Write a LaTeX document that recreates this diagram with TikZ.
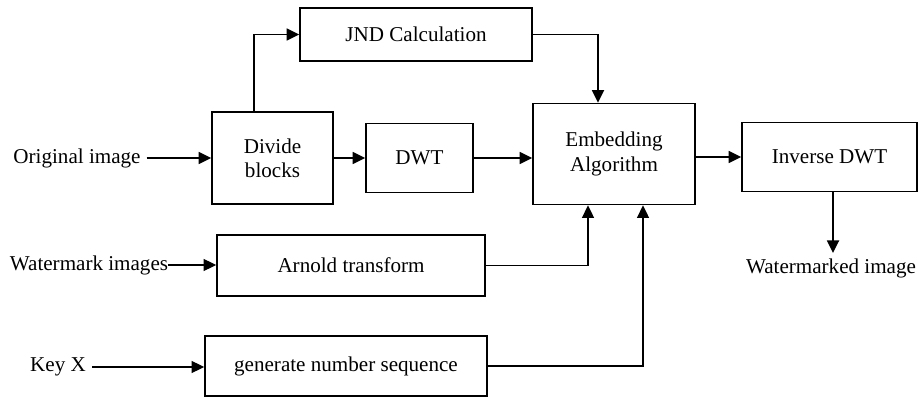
\documentclass[tikz,border=0pt]{standalone}
\usepackage{fontspec}
\setmainfont{Liberation Serif}
\usetikzlibrary{arrows.meta, positioning}

\begin{document}
\begin{tikzpicture}[>={Triangle[length=0.25cm,width=0.24cm]},
    font=\fontsize{12}{13.7}\selectfont,
    block/.style={draw, line width=1pt, align=center, inner sep=0pt},
    flow/.style={->, line width=1pt},
    thinflow/.style={->, line width=0.7pt}]

    % Frame
    \useasboundingbox (0,0) rectangle (18.36,7.94);

    % Blocks
    \node[block, minimum width=4.64cm, minimum height=1.06cm] (jnd) at (8.32,7.25) {JND Calculation};
    \node[block, minimum width=2.42cm, minimum height=1.84cm] (divide) at (5.45,4.78) {Divide\\blocks};
    \node[block, minimum width=2.14cm, minimum height=1.38cm] (dwt) at (8.39,4.78) {DWT};
    \node[block, minimum width=3.24cm, minimum height=2.02cm] (embed) at (12.28,4.86) {Embedding\\Algorithm};
    \node[block, minimum width=3.5cm, minimum height=1.38cm] (idwt) at (16.59,4.8) {Inverse DWT};
    \node[block, minimum width=5.36cm, minimum height=1.22cm] (arnold) at (7.02,2.63) {Arnold transform};
    \node[block, minimum width=5.64cm, minimum height=1.2cm] (gen) at (6.92,0.62) {generate number sequence};

    % Inputs and output
    \node (orig) at (1.54,4.78) {Original image};
    \node[inner sep=0pt] (wm) at (1.78,2.64) {Watermark images};
    \node (key) at (1.16,0.6) {Key X};
    \node[inner sep=3pt, anchor=north] (marked) at (16.62,2.88) {Watermarked image};

    % Main path
    \draw[flow] (orig) -- (divide);
    \draw[flow] ([xshift=-0.37cm]divide.north) |- (jnd.west);
    \draw[flow] (divide) -- (dwt);
    \draw[flow] (jnd.east) -| ([xshift=-0.32cm]embed.north);
    \draw[flow] (dwt) -- (dwt -| embed.west);
    \draw[flow] (embed.east |- idwt) -- (idwt);
    \draw[flow] ([xshift=0.07cm]idwt.south) -- ([xshift=0.07cm]idwt.south |- marked.north);

    % Side inputs
    \draw[thinflow] (wm) -- (wm -| arnold.west);
    \draw[thinflow] (key) -- (key -| gen.west);
    \draw[thinflow] (arnold.east) -| ([xshift=-0.52cm]embed.south);
    \draw[thinflow] (gen.east) -| ([xshift=0.58cm]embed.south);

\end{tikzpicture}
\end{document}
